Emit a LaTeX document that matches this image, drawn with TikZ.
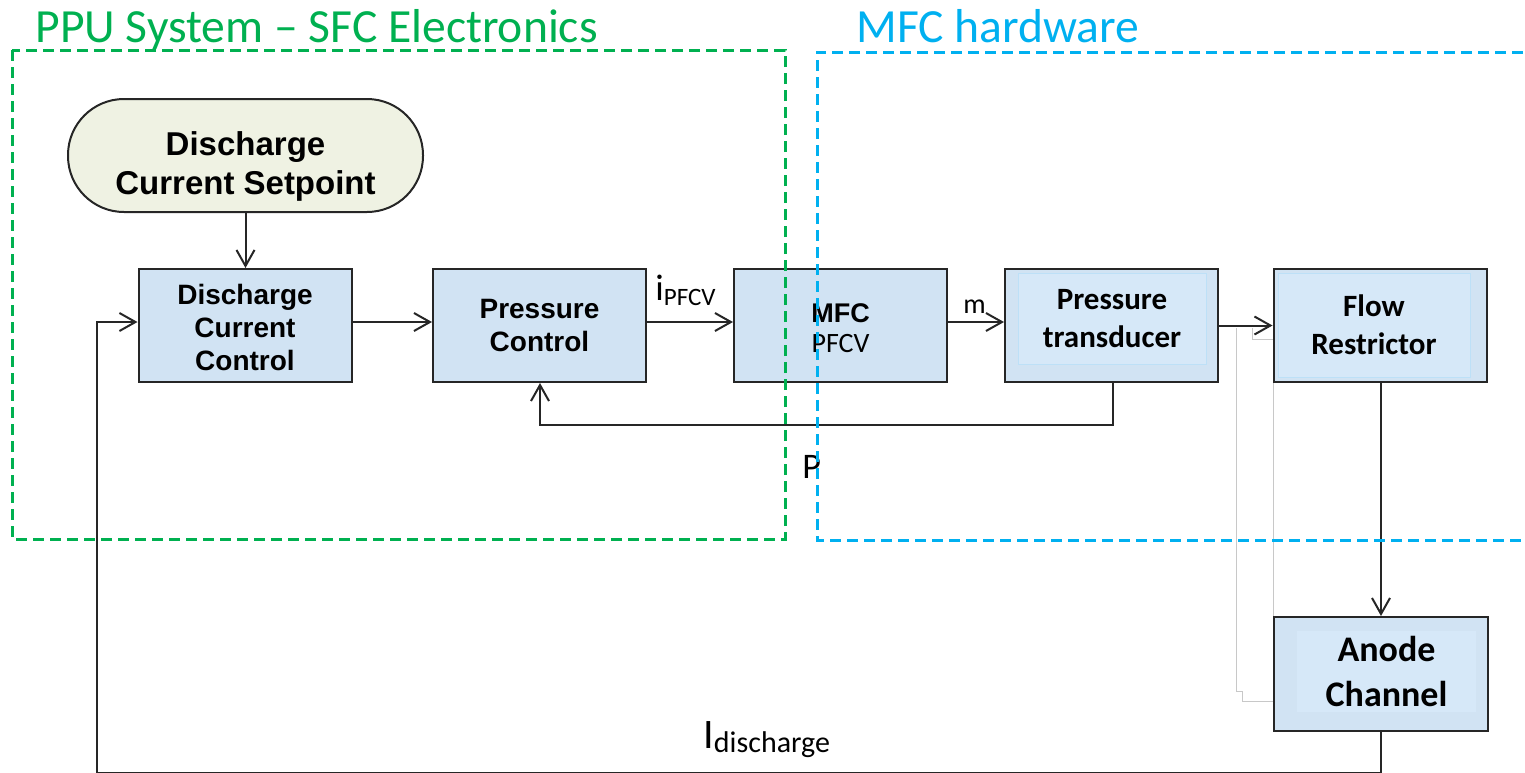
\documentclass[tikz,border=0pt]{standalone}
\usepackage{fontspec}
\setmainfont{Carlito}
\newfontfamily\arialf{Liberation Sans}
\newfontfamily\calf{Carlito}
\usetikzlibrary{arrows.meta}
\definecolor{linec}{HTML}{262626}
\definecolor{boxblue}{HTML}{D1E3F3}
\definecolor{innerblue}{HTML}{D6E8F8}
\definecolor{innerline}{HTML}{BDE0F7}
\definecolor{spfill}{HTML}{EFF2E3}
\definecolor{pgreen}{HTML}{00B050}
\definecolor{mblue}{HTML}{00B0F0}
\definecolor{ghost}{HTML}{C8C8C8}
\tikzset{
  blk/.style={draw=linec, line width=1pt, fill=boxblue, minimum width=106.5pt, minimum height=56.5pt, inner sep=0pt, align=center},
  arialtxt/.style={font=\arialf\bfseries\fontsize{14}{16.5}\selectfont},
  inbox/.style={draw=innerline, line width=0.5pt, fill=innerblue, inner sep=0pt, align=center, font=\calf\bfseries\fontsize{15.5}{19}\selectfont},
  arr/.style={draw=linec, line width=1pt, -{Straight Barb[length=8pt,width=9pt,line width=1pt]}},
  ghostline/.style={draw=ghost, line width=0.5pt},
  grp/.style={line width=1.5pt, dash pattern=on 5.5pt off 3pt},
  ttl/.style={font=\calf\fontsize{23.8}{23.8}\selectfont, inner sep=0pt, anchor=base west},
  lbl/.style={font=\calf, inner sep=0pt, anchor=base west, text=black}
}
\begin{document}
\begin{tikzpicture}[x=0.5pt, y=-0.5pt]
\useasboundingbox (0,0) rectangle (1525,772);

% ghost lines
\draw[ghostline] (1236,328) -- (1236,691) -- (1242,691) -- (1242,701) -- (1274,701);
\draw[ghostline] (1252,328) -- (1252,339) -- (1273,339) -- (1273,617);

% setpoint
\node[draw=linec, line width=1pt, fill=spfill, rounded corners=28pt, minimum width=177.5pt, minimum height=56.5pt, inner sep=0pt] (sp) at (245.5,155.5) {};
\node[inner sep=0pt, align=center, font=\arialf\bfseries\fontsize{16.5}{19.5}\selectfont] (spt) at (245.5,166) {Discharge\\Current Setpoint};

% blocks
\node[blk] (dcc) at (245,325.5) {};
\node[inner sep=0pt, align=center, arialtxt] (dcct) at (245,327) {Discharge\\Current\\Control};
\node[blk, arialtxt] (pc) at (539.5,325.5) {Pressure\\Control};
\node[blk] (mfc) at (840.5,325.5) {};
\node[inner sep=0pt, align=center] (mfct) at (840.5,328) {{\arialf\bfseries\fontsize{13.5}{16}\selectfont MFC}\\[3pt]{\calf\fontsize{14}{15}\selectfont PFCV}};
\node[blk] (pt) at (1111.5,325.5) {};
\node[inbox, minimum width=94pt, minimum height=45.5pt] (pti) at (1112,318.5) {Pressure\\transducer};
\node[blk] (fr) at (1380,325.5) {};
\node[inbox, minimum width=96pt, minimum height=52pt] (fri) at (1374,325) {Flow\\Restrictor};
\node[blk, minimum width=107pt, minimum height=57pt] (ac) at (1381,674) {};
\node[fill=innerblue, inner sep=0pt, minimum width=89.5pt, minimum height=40.5pt, align=center, font=\calf\bfseries\fontsize{18}{22.5}\selectfont] (aci) at (1386.5,671.5) {Anode\\Channel};

% connectors
\draw[arr] (sp.south) -- (dcc.north -| sp.south);
\draw[arr] ([yshift=1.75pt]dcc.east) -- ([yshift=1.75pt]pc.west);
\draw[arr] ([yshift=1.75pt]pc.east) -- ([yshift=1.75pt]mfc.west);
\draw[arr] ([yshift=1.75pt]mfc.east) -- ([yshift=1.75pt]pt.west);
\draw[arr] (pt.east) -- (fr.west);
\coordinate (pb1) at (1113,425);
\coordinate (pb2) at (540,425);
\draw[arr] (pt.south -| pb1) -- (pb1) -- (pb2) -- (pc.south -| pb2);
\draw[arr] (fr.south -| ac.north) -- (ac.north);
\coordinate (bb1) at (1381,772.6);
\coordinate (bb2) at (97,772.6);
\coordinate (bb3) at (97,322);
\draw[arr] (ac.south) -- (bb1) -- (bb2) -- (bb3) -- (bb3 -| dcc.west);

% labels
\node[lbl] (ipfcv) at (655,300) {{\fontsize{18.5}{18.5}\selectfont i}\raisebox{-2.5pt}{\fontsize{12.5}{12.5}\selectfont PFCV}};
\node[lbl] (mlbl) at (963,313) {\fontsize{14}{14}\selectfont m};
\node[lbl] (plbl) at (802,478) {\fontsize{18}{18}\selectfont P};
\node[lbl] (ilbl) at (703,748) {{\fontsize{21}{21}\selectfont I}\raisebox{-2pt}{\fontsize{15}{15}\selectfont discharge}};

% group boxes
\draw[grp, draw=pgreen] (12,50) rectangle (785,539);
\draw[grp, draw=mblue] (1540,52) -- (817,52) -- (817,540) -- (1540,540);
\node[ttl, text=pgreen] (t1) at (35,42) {PPU System – SFC Electronics};
\node[ttl, text=mblue] (t2) at (856,42) {MFC hardware};
\end{tikzpicture}
\end{document}
